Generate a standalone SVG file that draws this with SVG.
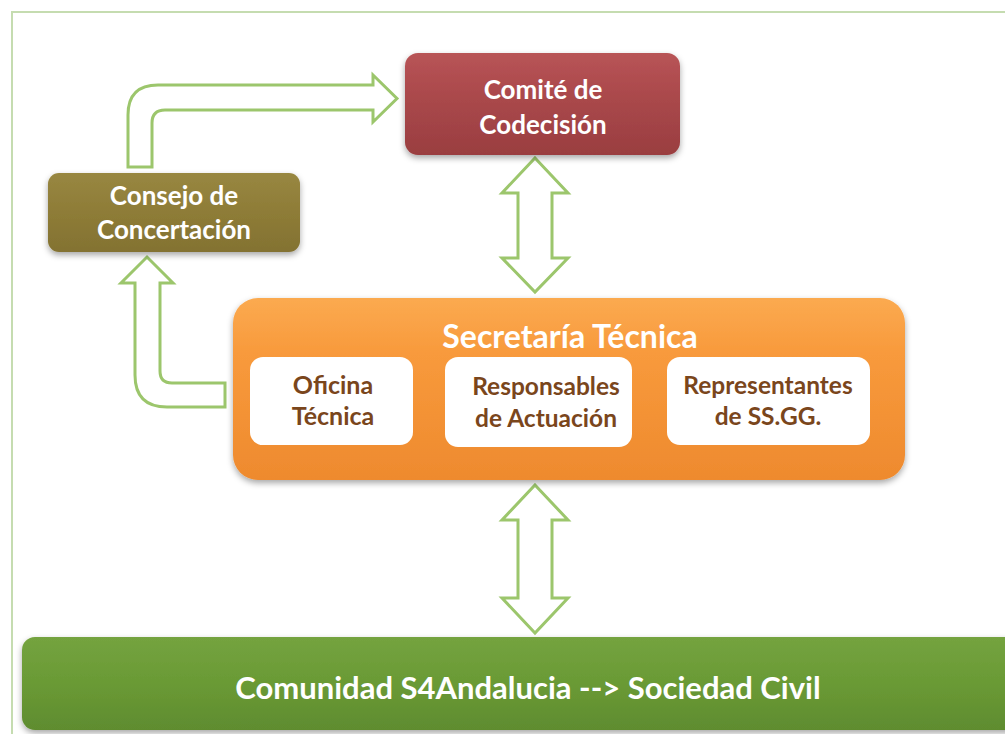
<svg xmlns="http://www.w3.org/2000/svg" width="1005" height="734" viewBox="0 0 1005 734">
<style>
.lbl{font-family:Lato,"Open Sans","Liberation Sans",sans-serif;font-weight:bold;text-anchor:middle}
.w{fill:#ffffff}
.br{fill:#7a461c}
.arr{fill:#ffffff;stroke:#9cc66c;stroke-width:3;stroke-linejoin:miter}
</style>
<defs>
<filter id="sh" x="-10%" y="-10%" width="120%" height="130%">
<feDropShadow dx="0" dy="3" stdDeviation="3" flood-color="#000" flood-opacity="0.35"/>
</filter>
<linearGradient id="gRed" x1="0" y1="0" x2="0" y2="1">
<stop offset="0" stop-color="#b85456"/><stop offset="0.5" stop-color="#a8474a"/><stop offset="1" stop-color="#9a3e40"/>
</linearGradient>
<linearGradient id="gOl" x1="0" y1="0" x2="0" y2="1">
<stop offset="0" stop-color="#988741"/><stop offset="0.5" stop-color="#8e7c37"/><stop offset="1" stop-color="#837232"/>
</linearGradient>
<linearGradient id="gOr" x1="0" y1="0" x2="0" y2="1">
<stop offset="0" stop-color="#fbaa50"/><stop offset="0.3" stop-color="#f89a3c"/><stop offset="1" stop-color="#ee8a2e"/>
</linearGradient>
<linearGradient id="gGr" x1="0" y1="0" x2="0" y2="1">
<stop offset="0" stop-color="#74a33f"/><stop offset="0.5" stop-color="#6a9a35"/><stop offset="1" stop-color="#5f8c2f"/>
</linearGradient>
</defs>
<rect width="1005" height="734" fill="#ffffff"/>
<path d="M1005,12 L12,12 L12,734" fill="none" stroke="#c5dcb0" stroke-width="2"/>

<g id="connectors">
<path class="arr" d="M128,167 L128,115 Q128,85 158,85 L373,85 L373,75 L397,98.5 L373,122 L373,110 L165,110 Q152,110 152,123 L152,167 Z"/>
<path class="arr" d="M225,383 L172,383 Q160,383 160,371 L160,283 L173,283 L147,257 L121,283 L135,283 L135,375 Q135,407 167,407 L225,407 Z"/>
<path class="arr" d="M535,158 L568,193 L552,193 L552,258 L568,258 L535,292 L502,258 L518,258 L518,193 L502,193 Z"/>
<path class="arr" d="M535,485 L568,520 L552,520 L552,598 L568,598 L535,633 L502,598 L518,598 L518,520 L502,520 Z"/>
</g>

<g id="comite">
<rect x="405" y="53" width="275" height="102" rx="13" fill="url(#gRed)" filter="url(#sh)"/>
<text class="lbl w" x="543" y="99" font-size="26">Comité de</text>
<text class="lbl w" x="543" y="134" font-size="26">Codecisión</text>
</g>

<g id="consejo">
<rect x="48" y="173" width="252" height="79" rx="11" fill="url(#gOl)" filter="url(#sh)"/>
<text class="lbl w" x="174" y="205" font-size="26">Consejo de</text>
<text class="lbl w" x="174" y="239" font-size="26">Concertación</text>
</g>

<g id="secretaria">
<rect x="233" y="298" width="672" height="182" rx="25" fill="url(#gOr)" filter="url(#sh)"/>
<text class="lbl w" x="570" y="348" font-size="32">Secretaría Técnica</text>
</g>

<g id="oficina">
<rect x="250" y="357" width="163" height="88" rx="13" fill="#ffffff"/>
<text class="lbl br" x="333" y="394" font-size="25">Oficina</text>
<text class="lbl br" x="333" y="425" font-size="25">Técnica</text>
</g>

<g id="responsables">
<rect x="445" y="357" width="187" height="90" rx="13" fill="#ffffff"/>
<text class="lbl br" x="546" y="395" font-size="24.5">Responsables</text>
<text class="lbl br" x="546" y="427" font-size="24.5">de Actuación</text>
</g>

<g id="representantes">
<rect x="667" y="357" width="203" height="88" rx="13" fill="#ffffff"/>
<text class="lbl br" x="768" y="394" font-size="24.5">Representantes</text>
<text class="lbl br" x="768" y="425" font-size="24.5">de SS.GG.</text>
</g>

<g id="comunidad">
<rect x="22" y="637" width="1000" height="93" rx="13" fill="url(#gGr)" filter="url(#sh)"/>
<text class="lbl w" x="528" y="699" font-size="31">Comunidad S4Andalucia --&gt; Sociedad Civil</text>
</g>
</svg>
